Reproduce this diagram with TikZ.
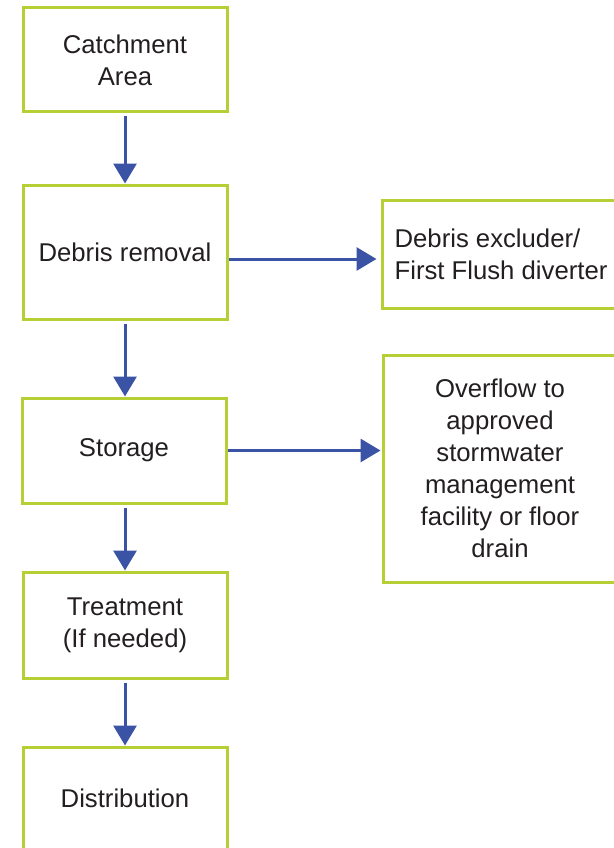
\documentclass[tikz,border=0pt]{standalone}
\usepackage{fontspec}
\setmainfont{Liberation Sans}
\usetikzlibrary{arrows.meta}
\definecolor{boxgreen}{HTML}{B5CF34}
\definecolor{flowblue}{HTML}{3A53A4}
\definecolor{textgrey}{HTML}{231F20}
\tikzset{
	stage/.style={draw=boxgreen, line width=3pt, fill=white, text=textgrey,
		minimum width=204pt, align=center, inner sep=0pt,
		font=\fontsize{25.7}{32}\selectfont},
	flow/.style={draw=flowblue, line width=3pt, -{Triangle[width=23pt, length=20pt]},
		shorten <=3pt}
}
\begin{document}
\begin{tikzpicture}[x=1pt, y=-1pt]
	\useasboundingbox (0,0) rectangle (613,848);
	\node[stage, minimum height=104pt] (catchment) at (125,60) {Catchment\\Area};
	\node[stage, minimum height=134pt] (debris) at (125,252) {Debris removal};
	\node[stage, minimum height=105pt] (storage) at (124,450.5) {Storage};
	\node[stage, minimum height=106pt] (treatment) at (125,625) {Treatment\\(If needed)};
	\node[stage, minimum height=103pt] (distribution) at (125,798.5) {Distribution};
	\node[stage, minimum width=238pt, minimum height=108pt, align=left] (excluder) at (501,254) {Debris excluder/\\First Flush diverter};
	\node[stage, minimum width=234pt, minimum height=227pt] (overflow) at (500,468.5) {Overflow to\\approved\\stormwater\\management\\facility or floor\\drain};
	% main line
	\draw[flow] (catchment.south) -- (debris.north);
	\draw[flow] (debris.south) -- (storage.north -| debris.south);
	\draw[flow] (storage.south -| debris.south) -- (treatment.north);
	\draw[flow] (treatment.south) -- (distribution.north);
	% side branches
	\draw[flow, shorten >=4pt, shorten <=0pt] ([yshift=-7pt]debris.east) -- ([yshift=-7pt]debris.east -| excluder.west);
	\draw[flow, shorten >=1pt, shorten <=0pt] (storage.east) -- (storage.east -| overflow.west);
\end{tikzpicture}
\end{document}
